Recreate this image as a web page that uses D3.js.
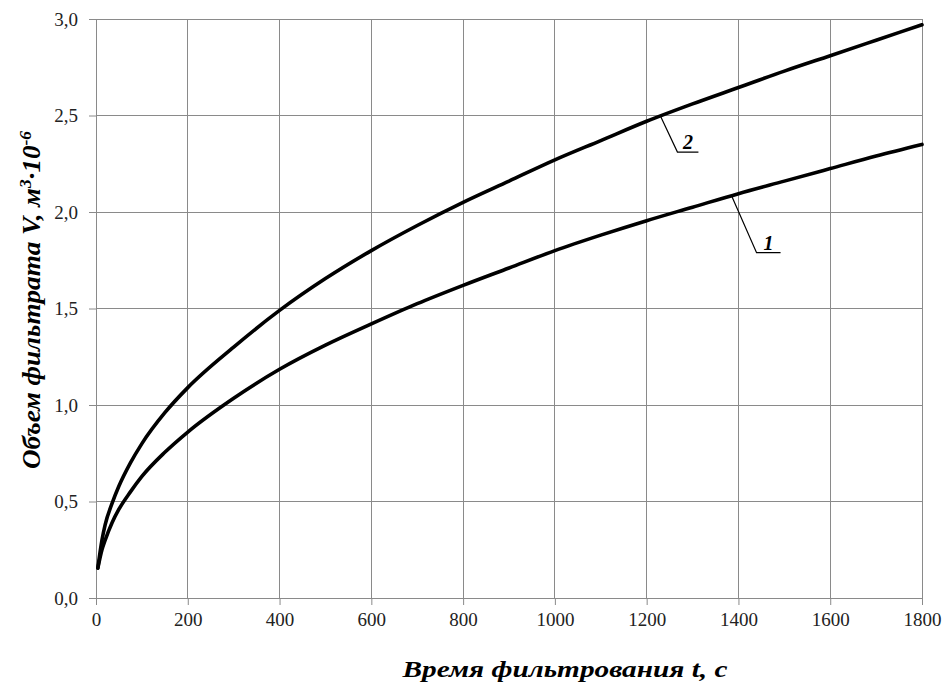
<!DOCTYPE html>
<html>
<head>
<meta charset="utf-8">
<script src="https://cdn.jsdelivr.net/npm/d3@7"></script>
<style>
  body { margin: 0; background: #fff; }
  #chart { width: 946px; height: 682px; }
</style>
</head>
<body>
<div id="chart"></div>
<script>
// time, s
const times = [4, 13, 20, 35, 50, 75, 100, 150, 200, 300, 400, 500, 600, 700, 800, 900,
  1000, 1100, 1200, 1300, 1400, 1500, 1600, 1700, 1800];
// curve 1 (lower)
const volume1 = [0.155, 0.25, 0.30, 0.39, 0.46, 0.55, 0.63, 0.755, 0.86, 1.035, 1.185, 1.31, 1.42,
  1.525, 1.62, 1.71, 1.80, 1.88, 1.955, 2.025, 2.095, 2.16, 2.225, 2.29, 2.35];
// curve 2 (upper)
const volume2 = [0.155, 0.30, 0.38, 0.49, 0.58, 0.70, 0.80, 0.96, 1.09, 1.30, 1.49, 1.655, 1.80,
  1.93, 2.05, 2.16, 2.27, 2.37, 2.47, 2.56, 2.645, 2.73, 2.81, 2.89, 2.97];
const xTicks = [0, 200, 400, 600, 800, 1000, 1200, 1400, 1600, 1800];
const yTicks = [0, 0.5, 1.0, 1.5, 2.0, 2.5, 3.0];
const curveLabels = ["1", "2"];
const labelAt = [1385, 1230];   // time where each leader touches its curve

const width = 946, height = 682;
const margin = { top: 19, right: 24, bottom: 84, left: 96 };
const chartWidth = width - margin.left - margin.right;
const chartHeight = height - margin.top - margin.bottom;

const svg = d3.select("#chart").append("svg")
  .attr("width", width)
  .attr("height", height);

const g = svg.append("g")
  .attr("transform", `translate(${margin.left},${margin.top})`);

const x = d3.scaleLinear().domain([0, 1800]).range([0, chartWidth]);
const y = d3.scaleLinear().domain([0, 3]).range([chartHeight, 0]);

const gridColor = "#8a8a8a";
const tickFont = "'Liberation Serif', 'Times New Roman', serif";

// grid
g.append("g")
  .selectAll("line")
  .data(xTicks)
  .join("line")
  .attr("x1", d => x(d)).attr("x2", d => x(d))
  .attr("y1", 0).attr("y2", chartHeight)
  .attr("stroke", gridColor).attr("stroke-width", 1)
  .attr("shape-rendering", "crispEdges");

g.append("g")
  .selectAll("line")
  .data(yTicks)
  .join("line")
  .attr("x1", 0).attr("x2", chartWidth)
  .attr("y1", d => y(d)).attr("y2", d => y(d))
  .attr("stroke", gridColor).attr("stroke-width", 1)
  .attr("shape-rendering", "crispEdges");

// axes
const xAxis = g.append("g")
  .attr("transform", `translate(0,${chartHeight})`)
  .call(d3.axisBottom(x).tickValues(xTicks).tickSize(7).tickPadding(8).tickFormat(d => d));
const yAxis = g.append("g")
  .call(d3.axisLeft(y).tickValues(yTicks).tickSize(7).tickPadding(11)
    .tickFormat(d => d3.format(".1f")(d).replace(".", ",")));

[xAxis, yAxis].forEach(ax => {
  ax.select(".domain").attr("stroke", gridColor);
  ax.selectAll(".tick line").attr("stroke", gridColor);
  ax.selectAll(".tick text")
    .attr("fill", "#222")
    .style("font-family", tickFont)
    .style("font-size", "19px");
});

// curves
const line = d3.line()
  .x((d, i) => x(times[i]))
  .y(d => y(d))
  .curve(d3.curveMonotoneX);

[volume1, volume2].forEach(vals => {
  g.append("path")
    .datum(vals)
    .attr("fill", "none")
    .attr("stroke", "#000")
    .attr("stroke-width", 3.6)
    .attr("stroke-linecap", "round")
    .attr("d", line);
});

// leader labels
const interp = (vals, t) => {
  const i = d3.bisectRight(times, t) - 1;
  const f = (t - times[i]) / (times[i + 1] - times[i]);
  return vals[i] + f * (vals[i + 1] - vals[i]);
};
const leaders = [
  { vals: volume1, dx: 25, dy: 57, len: 24 },
  { vals: volume2, dx: 17, dy: 36, len: 21 }
];
leaders.forEach((l, k) => {
  const px = x(labelAt[k]);
  const py = y(interp(l.vals, labelAt[k]));
  const lg = g.append("g");
  lg.append("path")
    .attr("d", `M${px},${py}L${px + l.dx},${py + l.dy}L${px + l.dx + l.len},${py + l.dy}`)
    .attr("fill", "none")
    .attr("stroke", "#000")
    .attr("stroke-width", 1.2);
  lg.append("text")
    .attr("x", px + l.dx + l.len / 2)
    .attr("y", py + l.dy - 3)
    .attr("text-anchor", "middle")
    .style("font-family", tickFont)
    .style("font-size", "20px")
    .style("font-style", "italic")
    .style("font-weight", "bold")
    .text(curveLabels[k]);
});

// axis titles
const titleFont = "'Liberation Serif', 'Times New Roman', serif";

svg.append("text")
  .attr("x", 565)
  .attr("y", 677)
  .attr("text-anchor", "middle")
  .attr("textLength", 325)
  .attr("lengthAdjust", "spacingAndGlyphs")
  .style("font-family", titleFont)
  .style("font-size", "23px")
  .style("font-style", "italic")
  .style("font-weight", "bold")
  .text("Время фильтрования t, с");

const yTitle = svg.append("text")
  .attr("transform", "translate(40,300) rotate(-90)")
  .attr("text-anchor", "middle")
  .attr("textLength", 338)
  .attr("lengthAdjust", "spacingAndGlyphs")
  .style("font-family", titleFont)
  .style("font-size", "25px")
  .style("font-style", "italic")
  .style("font-weight", "bold");
yTitle.append("tspan").text("Объем фильтрата V, м");
yTitle.append("tspan").attr("dy", -9).style("font-size", "16px").text("3");
yTitle.append("tspan").attr("dy", 9).text("·10");
yTitle.append("tspan").attr("dy", -9).style("font-size", "16px").text("-6");
</script>
</body>
</html>
